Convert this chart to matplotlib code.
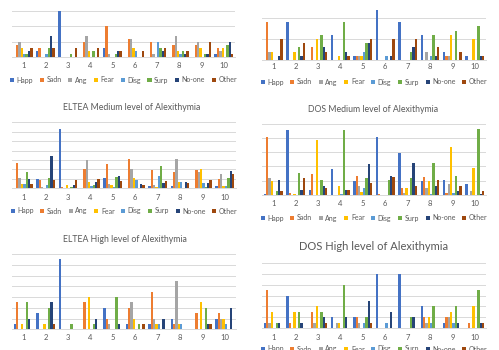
import matplotlib
matplotlib.use("Agg")
import matplotlib.pyplot as plt
import numpy as np

plt.rcParams["font.family"] = ["Lato", "DejaVu Sans"]

W, H = 499, 350

series = ["Happ", "Sadn", "Ang", "Fear", "Disg", "Surp", "No-one", "Other"]
colors = ["#4472C4", "#ED7D31", "#A5A5A5", "#FFC000", "#5B9BD5", "#70AD47", "#264478", "#9E480E"]
cats = ["1", "2", "3", "4", "5", "6", "7", "8", "9", "10"]

# rows = category 1..10, cols = series in the order above
eltea_low = [
    [0, 4, 5, 3, 1, 1, 2, 3],
    [2, 3, 0, 0, 1, 3, 7, 3],
    [15, 0, 0, 0, 0, 1, 0, 3],
    [0, 5, 7, 2, 0, 2, 0, 3],
    [3, 10, 1, 0, 0, 1, 2, 2],
    [0, 6, 6, 3, 2, 0, 0, 2],
    [0, 5, 1, 0, 5, 3, 2, 3],
    [0, 4, 7, 2, 1, 2, 1, 2],
    [0, 4, 5, 3, 0, 1, 1, 5],
    [1, 3, 2, 3, 0, 4, 5, 1],
]
dos_low = [
    [0, 9, 2, 2, 0, 0, 1, 5],
    [9, 0, 0, 2, 0, 3, 1, 4],
    [0, 3, 0, 5, 0, 6, 3, 2],
    [6, 0, 0, 1, 0, 9, 2, 1],
    [1, 1, 1, 1, 2, 4, 4, 5],
    [12, 0, 0, 0, 1, 0, 1, 5],
    [9, 0, 0, 0, 0, 2, 3, 5],
    [6, 0, 2, 0, 1, 6, 1, 3],
    [2, 1, 1, 6, 0, 7, 0, 2],
    [1, 0, 0, 5, 0, 8, 1, 1],
]
eltea_med = [
    [0, 2.7, 1.1, 0.5, 0.5, 1.7, 1.0, 0.5],
    [1.0, 0.9, 0.1, 0, 0.3, 1.1, 3.4, 0.9],
    [6.3, 0.1, 0, 0.3, 0, 0.1, 0.3, 0.9],
    [0, 2.0, 3.0, 0.7, 0.2, 0.3, 0.7, 1.0],
    [1.1, 2.6, 0.5, 0.3, 0.1, 1.25, 1.35, 0.8],
    [0, 3.1, 2.05, 1.1, 0.9, 0, 0.5, 0.3],
    [0.25, 1.9, 0.35, 0.1, 1.35, 2.4, 0.55, 0.8],
    [0.25, 1.7, 3.1, 0.7, 0.7, 0, 0.7, 0.55],
    [0.05, 1.9, 1.7, 2.1, 0.55, 0.1, 0.55, 0.9],
    [0.25, 1.0, 1.5, 0.25, 0.25, 1.1, 1.8, 1.55],
]
dos_med = [
    [0.07, 4.05, 1.2, 0.95, 0, 0.25, 1.05, 0.25],
    [4.55, 0.12, 0, 0.07, 0, 1.55, 0.35, 1.2],
    [0.35, 1.45, 0, 3.85, 0, 1.05, 0.65, 0.45],
    [1.85, 0, 0, 0.65, 0.05, 4.55, 0.35, 0.35],
    [0.95, 1.35, 0.65, 0.2, 0.45, 1.2, 2.15, 0.85],
    [4.1, 0.07, 0, 0, 0, 1.05, 1.35, 1.25],
    [2.95, 0.5, 0.1, 0.5, 0, 1.2, 2.25, 0.65],
    [0.95, 1.25, 0.5, 0.95, 0.07, 2.25, 0.65, 1.05],
    [1.05, 0.12, 0.75, 3.4, 0.12, 1.35, 0.25, 0.65],
    [0.75, 0, 0.25, 1.9, 0, 4.65, 0.07, 0.25],
]
eltea_high = [
    [0.5, 2.5, 0, 0.5, 0, 2.5, 1.0, 0],
    [1.5, 0, 0, 0.5, 0, 2.0, 2.5, 0.5],
    [6.5, 0, 0, 0, 0, 0.5, 0, 0],
    [0, 2.5, 0, 3.0, 0, 0.5, 1.0, 0],
    [2.0, 1.0, 0.5, 0, 0, 3.0, 0.5, 0],
    [0.5, 2.0, 2.5, 1.0, 0, 0.5, 0, 0.5],
    [0.5, 3.5, 1.0, 0.5, 0.5, 0, 1.0, 0],
    [1.0, 0.5, 4.5, 0.5, 0.5, 0, 0, 0],
    [0, 1.5, 0, 2.5, 0, 2.0, 0.5, 0.5],
    [1.0, 1.5, 1.0, 1.0, 0.5, 0, 2.0, 0],
]
dos_high = [
    [0.5, 3.5, 0.5, 1.5, 0, 0.5, 0.5, 0],
    [3.0, 0.5, 0, 1.5, 0, 1.5, 0.5, 0],
    [0, 1.5, 0.5, 2.0, 0, 1.5, 1.0, 0.5],
    [1.0, 0, 0.5, 0.5, 0, 4.0, 1.0, 0],
    [1.0, 1.0, 0.5, 0, 0.5, 1.0, 2.5, 0.5],
    [5.0, 0, 0, 0, 0.5, 0, 1.5, 0],
    [5.0, 0, 0, 0, 0, 1.0, 1.0, 0],
    [2.0, 1.0, 0.5, 1.0, 0.5, 2.0, 0, 0],
    [0.5, 1.0, 1.0, 1.5, 0.5, 2.0, 0.5, 0],
    [0, 0.5, 0, 2.0, 0, 3.5, 0.5, 0.5],
]

titles = ["ELTEA Medium level of Alexithymia", "DOS Medium level of Alexithymia",
          "ELTEA High level of Alexithymia", "DOS High level of Alexithymia"]

fig = plt.figure(figsize=(W / 100, H / 100), dpi=100)

txt = "#595959"
grid = "#D9D9D9"


def panel(data, x0, x1, ytop, ybase, ymax, step, lab_y, leg_y=None):
    ax = fig.add_axes([x0 / W, 1 - ybase / H, (x1 - x0) / W, (ybase - ytop) / H])
    d = np.array(data, dtype=float)
    x = np.arange(1, 11)
    bw = 0.105
    for i in range(8):
        ax.bar(x + (i - 3.5) * bw, d[:, i], width=bw, color=colors[i], label=series[i], zorder=3)
    ax.set_xlim(0.5, 10.5)
    ax.set_ylim(0, ymax)
    ax.set_yticks(np.arange(0, ymax + step / 2, step))
    ax.yaxis.grid(True, color=grid, lw=0.7, zorder=0)
    ax.tick_params(axis="y", left=False, labelleft=False)
    for s in ["top", "right", "left"]:
        ax.spines[s].set_visible(False)
    ax.spines["bottom"].set_color(grid)
    ax.spines["bottom"].set_linewidth(0.7)
    ax.set_xticks(x)
    ax.set_xticklabels(cats, fontsize=5.5, color=txt)
    ax.tick_params(axis="x", length=0, pad=(lab_y - ybase - 4) * 0.72)
    if leg_y is not None:
        ax.legend(loc="center", bbox_to_anchor=((x0 + x1) / 2 / W, 1 - leg_y / H),
                  bbox_transform=fig.transFigure, ncol=8, frameon=False, fontsize=5.0,
                  handlelength=0.6, handleheight=0.6, handletextpad=0.35,
                  columnspacing=0.95, labelcolor=txt, borderpad=0, borderaxespad=0)
    return ax


panel(eltea_low, 12, 235, -4.7, 57.3, 20, 5, 66, 80)
panel(dos_low, 262, 486, -3, 60, 15, 5, 67, 82)
panel(eltea_med, 12, 236, 122.3, 188.3, 7, 1, 198, 211)
panel(dos_med, 262, 486, 124, 194.7, 5, 1, 204, 218)
panel(eltea_high, 12, 236, 254, 329.3, 7, 1, 338)
panel(dos_high, 262, 486, 263, 328, 6, 1, 338, 349)

fig.text(132 / W, 1 - 108 / H, titles[0], ha="center", va="center", fontsize=6.3, color=txt)
fig.text(373 / W, 1 - 110 / H, titles[1], ha="center", va="center", fontsize=6.3, color=txt)
fig.text(125 / W, 1 - 240 / H, titles[2], ha="center", va="center", fontsize=6.3, color=txt)
fig.text(374 / W, 1 - 247 / H, titles[3], ha="center", va="center", fontsize=8, color=txt)

fig.savefig("out.png", dpi=100)
